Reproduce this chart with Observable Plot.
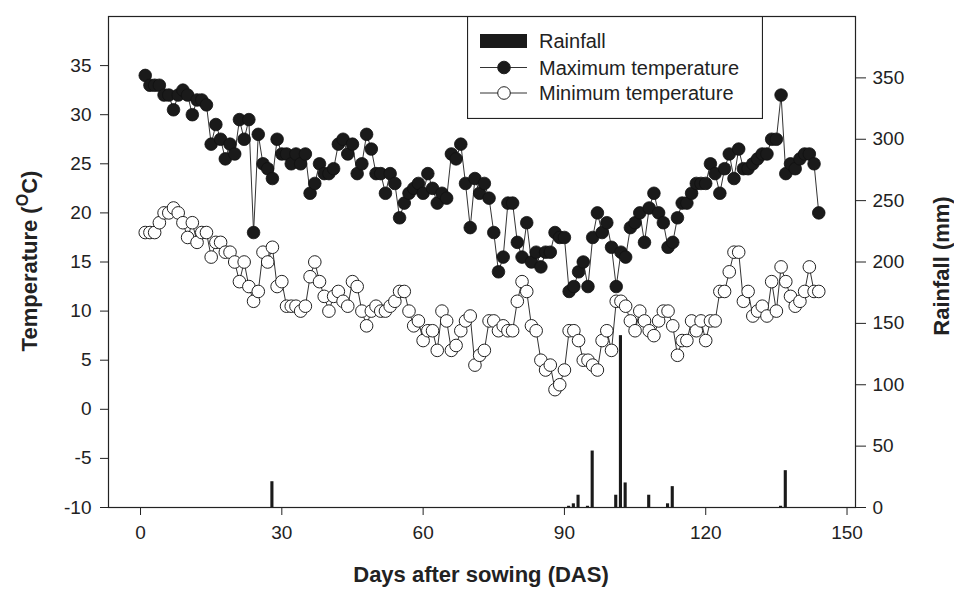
<!DOCTYPE html>
<html>
<head>
<meta charset="utf-8">
<script src="https://cdn.jsdelivr.net/npm/d3@7"></script>
<script src="https://cdn.jsdelivr.net/npm/@observablehq/plot@0.6"></script>
<style>
  html, body { margin: 0; padding: 0; background: #fff; }
  #wrap { position: relative; width: 954px; height: 589px; font-family: "Liberation Sans", Arial, sans-serif; }
  #legend { position: absolute; left: 467px; top: 16px; }
</style>
</head>
<body>
<div id="wrap"></div>
<script>
// Day index: day = position + 1 (1..144)
const maxTemp = [34,33,33,33,32,32,30.5,32,32.5,32,30,31.5,31.5,31,27,29,27.5,25.5,27,26,
  29.5,27.5,29.5,18,28,25,24.5,23.5,27.5,26,26,25,26,25,26,22,23,25,24,24,
  24.5,27,27.5,26,27,24,25,28,26.5,24,24,22,24,23,19.5,21,22,22.5,23,22,
  24,22.5,21,22,21.5,26,25.5,27,23,18.5,23.5,22,23,21.5,18,14,15.5,21,21,17,
  15.5,19,15,16,14.5,16,16,18,17.5,17.5,12,12.5,14,15,12.5,17.5,20,18,19,16.5,
  12.5,16,15.5,18.5,19,20,17,20.5,22,20,19,16.5,17,19.5,21,21,22,23,23,23,
  25,24,22,24.5,26,23.5,26.5,24.5,24.5,25,25.5,26,26,27.5,27.5,32,24,25,24.5,25.5,
  26,26,25,20];
const minTemp = [18,18,18,19,20,20,20.5,20,19,17.5,19,17,18,18,15.5,17,17,16,16,15,
  13,15,12.5,11,12,16,15,16.5,12.5,13,10.5,10.5,10.5,10,10.5,13.5,15,13,11.5,10,
  11.5,12,11,10.5,13,12.5,10,8.5,10,10.5,10,10,10.5,11,12,12,10,8.5,9,7,
  8,8,6,10,9,6,6.5,8,9,9.5,4.5,5.5,6,9,9,8,8.5,8,8,11,
  13,12,8.5,8,5,4,4.5,2,2.5,4,8,8,7,5,5,4.5,4,7,8,6,
  11,11,10.5,9,8,10,9,8,7.5,9,10,10,8.5,5.5,7,7,9,8,9,7,
  9,9,12,12,14,16,16,11,12,9.5,10,10.5,9.5,13,10,14.5,13,11.5,10.5,11,
  12,14.5,12,12];
const rainDays = [28,91,92,93,95,96,101,102,103,108,112,113,136,137];
const rainMm   = [21,1,3,10,1,46,10,140,20,10,3,17,1,30];

const xTicks = [0,30,60,90,120,150];
const tempTicks = [-10,-5,0,5,10,15,20,25,30,35];
const rainTicks = [0,50,100,150,200,250,300,350];

const tempDomain = [-10, 40];
const rainDomain = [0, 400];
// map rainfall onto the temperature scale (shared y)
const rainToY = r => tempDomain[0] + (r - rainDomain[0]) * (tempDomain[1] - tempDomain[0]) / (rainDomain[1] - rainDomain[0]);
const yToRain = y => rainDomain[0] + (y - tempDomain[0]) * (rainDomain[1] - rainDomain[0]) / (tempDomain[1] - tempDomain[0]);

const maxData = maxTemp.map((t, i) => ({day: i + 1, t}));
const minData = minTemp.map((t, i) => ({day: i + 1, t}));
const rainData = rainDays.map((d, i) => ({day: d, mm: rainMm[i]}));

const font = '"Liberation Sans", Arial, sans-serif';

const chart = Plot.plot({
  width: 954,
  height: 589,
  marginLeft: 108,
  marginRight: 99,
  marginTop: 16,
  marginBottom: 82,
  style: {fontFamily: font, fontSize: "19px", color: "#222", background: "#fff"},
  x: {domain: [-6.8, 151.8]},
  y: {domain: tempDomain},
  marks: [
    Plot.rectY(rainData, {
      x1: d => d.day - 0.33, x2: d => d.day + 0.33,
      y1: tempDomain[0], y2: d => rainToY(d.mm),
      fill: "#1a1a1a"
    }),
    Plot.line(minData, {x: "day", y: "t", stroke: "#333", strokeWidth: 1}),
    Plot.dot(minData, {x: "day", y: "t", r: 6.3, fill: "#fff", stroke: "#222", strokeWidth: 1}),
    Plot.line(maxData, {x: "day", y: "t", stroke: "#333", strokeWidth: 1}),
    Plot.dot(maxData, {x: "day", y: "t", r: 6.3, fill: "#1a1a1a", stroke: "#111", strokeWidth: 0.8}),
    Plot.axisX({ticks: xTicks, tickSize: 8, tickPadding: 10, tickFormat: d => String(d), label: null}),
    Plot.axisY({anchor: "left", ticks: tempTicks, tickSize: 8, tickPadding: 9, tickFormat: d => String(d), label: null}),
    Plot.axisY({anchor: "right", ticks: rainTicks.map(rainToY), tickSize: 10, tickPadding: 7,
      tickFormat: d => String(Math.round(yToRain(d))), label: null}),
    Plot.frame({stroke: "#222", strokeWidth: 1.2})
  ]
});

const wrap = document.getElementById("wrap");
wrap.appendChild(chart);

// axis titles (real text)
const svg = d3.select(chart);
svg.append("text")
  .attr("x", 481).attr("y", 582)
  .attr("text-anchor", "middle")
  .attr("font-family", font).attr("font-weight", "bold").attr("font-size", 22).attr("fill", "#222")
  .text("Days after sowing (DAS)");

const lt = svg.append("text")
  .attr("transform", "translate(37,261) rotate(-90)")
  .attr("text-anchor", "middle")
  .attr("font-family", font).attr("font-weight", "bold").attr("font-size", 22).attr("fill", "#222");
lt.append("tspan").text("Temperature (");
lt.append("tspan").attr("font-size", 16).attr("dy", -9).text("O");
lt.append("tspan").attr("dy", 9).text("C)");

svg.append("text")
  .attr("transform", "translate(949,266) rotate(-90)")
  .attr("text-anchor", "middle")
  .attr("font-family", font).attr("font-weight", "bold").attr("font-size", 22).attr("fill", "#222")
  .text("Rainfall (mm)");

// legend
const lg = d3.select(wrap).append("svg").attr("id", "legend")
  .attr("width", 296).attr("height", 103);
lg.append("rect").attr("x", 0.5).attr("y", 0.5).attr("width", 295).attr("height", 102)
  .attr("fill", "#fff").attr("stroke", "#222").attr("stroke-width", 1.2);
const items = ["Rainfall", "Maximum temperature", "Minimum temperature"];
const rowY = [25, 51.5, 77];
items.forEach((name, i) => {
  const g = lg.append("g");
  if (i === 0) {
    g.append("rect").attr("x", 13).attr("y", rowY[i] - 7).attr("width", 47).attr("height", 14).attr("fill", "#1a1a1a");
  } else {
    g.append("line").attr("x1", 13).attr("x2", 60).attr("y1", rowY[i]).attr("y2", rowY[i]).attr("stroke", "#333");
    g.append("circle").attr("cx", 37).attr("cy", rowY[i]).attr("r", 6.3)
      .attr("fill", i === 1 ? "#1a1a1a" : "#fff").attr("stroke", "#222");
  }
  g.append("text").attr("x", 72).attr("y", rowY[i]).attr("dy", "0.35em")
    .attr("font-family", font).attr("font-size", 20).attr("fill", "#222").text(name);
});
</script>
</body>
</html>
